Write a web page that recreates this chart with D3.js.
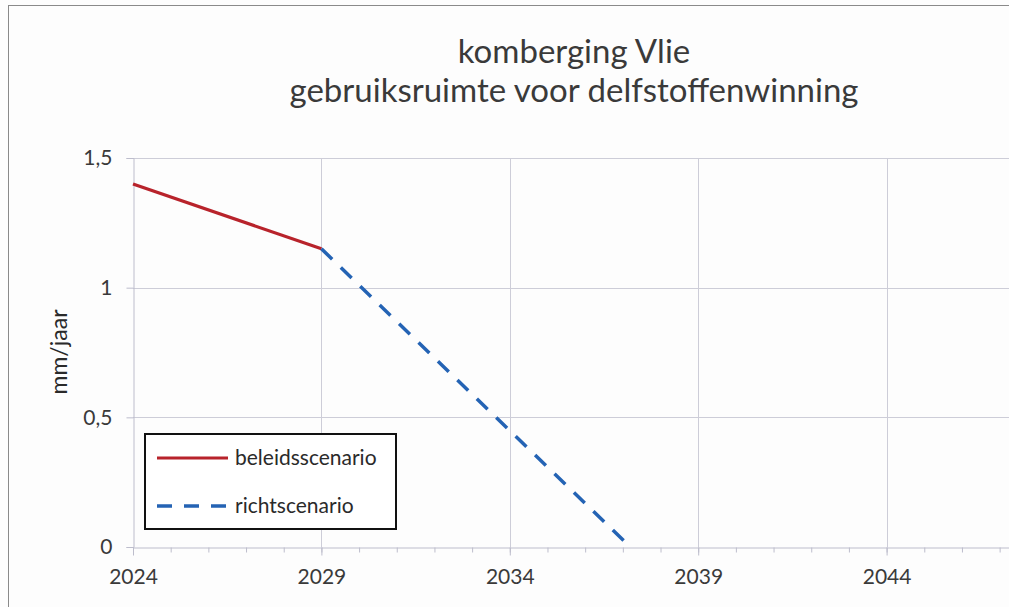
<!DOCTYPE html>
<html>
<head>
<meta charset="utf-8">
<script src="https://cdn.jsdelivr.net/npm/d3@7"></script>
<style>
  body { margin: 0; background: #fff; }
  svg { display: block; }
  text { font-family: Lato, "Open Sans", sans-serif; fill: #333; }
</style>
</head>
<body>
<svg id="chart" width="1009" height="607"></svg>
<script>
// Chart data
const titleLines = ["komberging Vlie", "gebruiksruimte voor delfstoffenwinning"];
const yLabel = "mm/jaar";
const xTicks = [2024, 2029, 2034, 2039, 2044];
const yTicks = [0, 0.5, 1, 1.5];
const yTickLabels = ["0", "0,5", "1", "1,5"];
const beleidYears = [2024, 2029];
const beleidValues = [1.4, 1.15];
const richtYears = [2029, 2037.2];
const richtValues = [1.15, 0];
const seriesNames = ["beleidsscenario", "richtscenario"];

const svg = d3.select("#chart");
const W = 1009, H = 607;

// plot box (right side runs off the picture like in the scan)
const plotLeft = 133, plotTop = 158, plotBottom = 547;

const x = d3.scaleLinear().domain([2024, 2049]).range([plotLeft, 1075]);
const y = d3.scaleLinear().domain([0, 1.5]).range([plotBottom, plotTop]);

svg.append("rect").attr("width", W).attr("height", H).attr("fill", "#fdfdfd");

// outer chart border
svg.append("rect")
    .attr("x", 8.5).attr("y", 5.5)
    .attr("width", W + 20).attr("height", H + 20)
    .attr("fill", "none").attr("stroke", "#8a8a8a").attr("stroke-width", 1);

// title
svg.selectAll(".title")
    .data(titleLines)
    .enter()
    .append("text")
    .attr("class", "title")
    .attr("x", 574)
    .attr("y", (d, i) => 63 + i * 39)
    .attr("text-anchor", "middle")
    .style("font-size", "33px")
    .style("fill", "#3a3a3a")
    .text((d) => d);

// grid
const grid = svg.append("g").attr("stroke", "#cdcdd8").attr("stroke-width", 1);
grid.selectAll(".hgrid")
    .data(yTicks.filter((d) => d > 0))
    .enter()
    .append("line")
    .attr("x1", plotLeft).attr("x2", W)
    .attr("y1", (d) => Math.round(y(d)) + 0.5)
    .attr("y2", (d) => Math.round(y(d)) + 0.5);
grid.selectAll(".vgrid")
    .data(xTicks.slice(1))
    .enter()
    .append("line")
    .attr("y1", plotTop).attr("y2", plotBottom)
    .attr("x1", (d) => Math.round(x(d)) + 0.5)
    .attr("x2", (d) => Math.round(x(d)) + 0.5);

// y axis
const yAxis = svg.append("g")
    .attr("transform", `translate(${plotLeft + 0.5},0)`)
    .call(d3.axisLeft(y).tickValues(yTicks).tickSize(7)
        .tickFormat((d, i) => yTickLabels[i]).tickPadding(14));
yAxis.select(".domain").attr("stroke", "#bdbdcc");
yAxis.selectAll(".tick line").attr("stroke", "#bdbdcc");
yAxis.selectAll("text").style("font-size", "21px").style("fill", "#3a3a3a")
    .attr("font-family", null);

// x axis: minor ticks each year, labels every 5 years
const xAxisG = svg.append("g").attr("transform", `translate(0,${plotBottom + 0.5})`);
xAxisG.call(d3.axisBottom(x).tickValues(d3.range(2024, 2050, 1)).tickSize(5).tickFormat(""));
xAxisG.selectAll(".tick line").attr("stroke", "#bdbdcc");
xAxisG.select(".domain").attr("stroke", "#bdbdcc");
const xMajor = svg.append("g").attr("transform", `translate(0,${plotBottom + 0.5})`)
    .call(d3.axisBottom(x).tickValues(xTicks).tickSize(8).tickFormat(d3.format("d")).tickPadding(14));
xMajor.select(".domain").remove();
xMajor.selectAll(".tick line").attr("stroke", "#bdbdcc");
xMajor.selectAll("text").style("font-size", "21px").style("fill", "#3a3a3a")
    .attr("font-family", null);

// y label
svg.append("text")
    .attr("transform", "translate(67,352) rotate(-90)")
    .attr("text-anchor", "middle")
    .style("font-size", "23px")
    .style("fill", "#2a2a2a")
    .text(yLabel);

// lines
const line = d3.line().x((d) => x(d[0])).y((d) => y(d[1]));

svg.append("path")
    .datum(d3.zip(beleidYears, beleidValues))
    .attr("d", line)
    .attr("fill", "none")
    .attr("stroke", "#b8232b")
    .attr("stroke-width", 3.2);

svg.append("path")
    .datum(d3.zip(richtYears, richtValues))
    .attr("d", line)
    .attr("fill", "none")
    .attr("stroke", "#2463b4")
    .attr("stroke-width", 3.5)
    .attr("stroke-dasharray", "15,12");

// legend
const legend = svg.append("g");
legend.append("rect")
    .attr("x", 145).attr("y", 434)
    .attr("width", 251).attr("height", 95)
    .attr("fill", "#fff").attr("stroke", "#111").attr("stroke-width", 2);

const legendRows = [
    { name: seriesNames[0], color: "#b8232b", dash: null, w: 3.2 },
    { name: seriesNames[1], color: "#2463b4", dash: "15,12", w: 3.5 },
];
legendRows.forEach((r, i) => {
    const ly = 458 + i * 48;
    legend.append("line")
        .attr("x1", 157).attr("x2", 228)
        .attr("y1", ly).attr("y2", ly)
        .attr("stroke", r.color).attr("stroke-width", r.w)
        .attr("stroke-dasharray", r.dash);
    legend.append("text")
        .attr("x", 235).attr("y", ly + 7)
        .style("font-size", "21px")
        .style("fill", "#2a2a2a")
        .text(r.name);
});
</script>
</body>
</html>
